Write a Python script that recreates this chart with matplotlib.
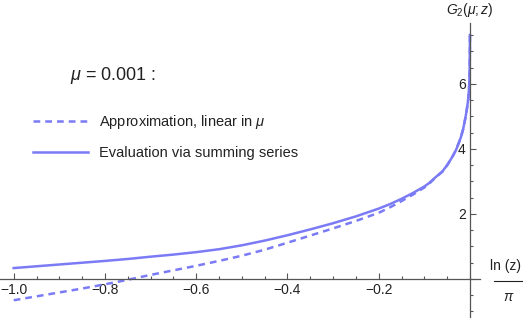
import matplotlib
matplotlib.use('Agg')
import matplotlib.pyplot as plt
from matplotlib.lines import Line2D
from matplotlib.ticker import MultipleLocator, FixedLocator

plt.rcParams['font.family'] = ['Liberation Sans', 'DejaVu Sans']
plt.rcParams['mathtext.fontset'] = 'custom'
plt.rcParams['mathtext.rm'] = 'Liberation Sans'
plt.rcParams['mathtext.it'] = 'Liberation Sans:italic'

# values
x_series = [-1.0, -0.95, -0.9, -0.85, -0.8, -0.75, -0.7, -0.65, -0.6, -0.55,
            -0.5, -0.45, -0.4, -0.35, -0.3, -0.25, -0.2, -0.175, -0.15,
            -0.125, -0.1, -0.09, -0.075, -0.06, -0.05, -0.04, -0.03, -0.02,
            -0.015, -0.01, -0.007, -0.004, -0.002, -0.001, -0.0005, -0.0002,
            -0.00005]
g_series = [0.33, 0.385, 0.44, 0.495, 0.55, 0.61, 0.68, 0.745, 0.82, 0.91,
            1.03, 1.175, 1.34, 1.52, 1.71, 1.92, 2.16, 2.3, 2.46,
            2.64, 2.84, 2.94, 3.13, 3.31, 3.5, 3.72, 3.98, 4.35,
            4.6, 4.95, 5.2, 5.5, 5.85, 6.2, 6.6, 7.1,
            7.5]

x_approx = [-1.0, -0.95, -0.9, -0.85, -0.8, -0.75, -0.7, -0.65, -0.6, -0.55,
            -0.5, -0.45, -0.4, -0.35, -0.3, -0.25, -0.2, -0.175, -0.15,
            -0.125, -0.1, -0.09, -0.075, -0.06, -0.05, -0.04, -0.03, -0.02,
            -0.015, -0.01, -0.007, -0.004, -0.002, -0.001, -0.0005, -0.0002,
            -0.00005]
g_approx = [-0.66, -0.54, -0.42, -0.3, -0.17, -0.03, 0.12, 0.26, 0.4, 0.55,
            0.71, 0.895, 1.11, 1.33, 1.55, 1.78, 2.03, 2.2, 2.39,
            2.59, 2.81, 2.92, 3.12, 3.3, 3.49, 3.71, 3.98, 4.35,
            4.6, 4.95, 5.2, 5.5, 5.85, 6.2, 6.6, 7.1,
            7.5]

xticks = [-1.0, -0.8, -0.6, -0.4, -0.2]
xlabels = ['-1.0', '-0.8', '-0.6', '-0.4', '-0.2']
yticks = [2, 4, 6]

W, H = 523, 318
blue = '#7b7bf5'
axis_col = '#555555'
txt_col = '#222222'

fig = plt.figure(figsize=(W / 100, H / 100), dpi=100)
ax = fig.add_axes([0, 0, 480 / W, (H - 23) / H])

ax.plot(x_approx, g_approx, color=blue, lw=1.8, dashes=(2.7, 2.0),
        label=r'Approximation, linear in $\mu$')
ax.plot(x_series, g_series, color=blue, lw=1.8,
        label='Evaluation via summing series')

ax.set_xlim(-1.03, 0.022)
ax.set_ylim(-1.206, 7.87)

for s in ['top', 'right']:
    ax.spines[s].set_visible(False)
ax.spines['left'].set_position(('data', 0))
ax.spines['bottom'].set_position(('data', 0))
for s in ['left', 'bottom']:
    ax.spines[s].set_color(axis_col)
    ax.spines[s].set_linewidth(0.9)

ax.xaxis.set_major_locator(FixedLocator(xticks))
ax.set_xticklabels([l.replace('-', '\u2212') for l in xlabels])
ax.xaxis.set_minor_locator(MultipleLocator(0.05))
ax.yaxis.set_major_locator(FixedLocator(yticks))
ax.yaxis.set_minor_locator(MultipleLocator(0.5))
ax.tick_params(which='both', direction='in', color=axis_col, width=0.8,
               labelsize=10, labelcolor=txt_col)
ax.tick_params(which='major', length=4, pad=3)
ax.tick_params(which='minor', length=2.5)
ax.patch.set_alpha(0)

fig.text(470 / W, 1 - 10 / H, r'$G_2(\mu;z)$', ha='center', va='center',
         fontsize=10, color=txt_col)
fig.text(521 / W, 1 - 266 / H, 'ln (z)', ha='right', va='center',
         fontsize=10, color=txt_col)
fig.text(509 / W, 1 - 297 / H, r'$\pi$', ha='center', va='center',
         fontsize=10, color=txt_col)
fig.add_artist(Line2D([494 / W, 522 / W], [1 - 281 / H, 1 - 281 / H],
                      color=txt_col, lw=0.8))

fig.text(70 / W, 1 - 75 / H, r'$\mu$ = 0.001 :', ha='left', va='center',
         fontsize=13, color=txt_col)

ax.legend(loc='center left', bbox_to_anchor=(33 / W, 1 - 136.5 / H),
          bbox_transform=fig.transFigure, frameon=False, fontsize=10.5,
          handlelength=3.8, handletextpad=0.7, labelspacing=1.0,
          borderpad=0, borderaxespad=0, labelcolor=txt_col)

fig.savefig('out.png', dpi=100)
